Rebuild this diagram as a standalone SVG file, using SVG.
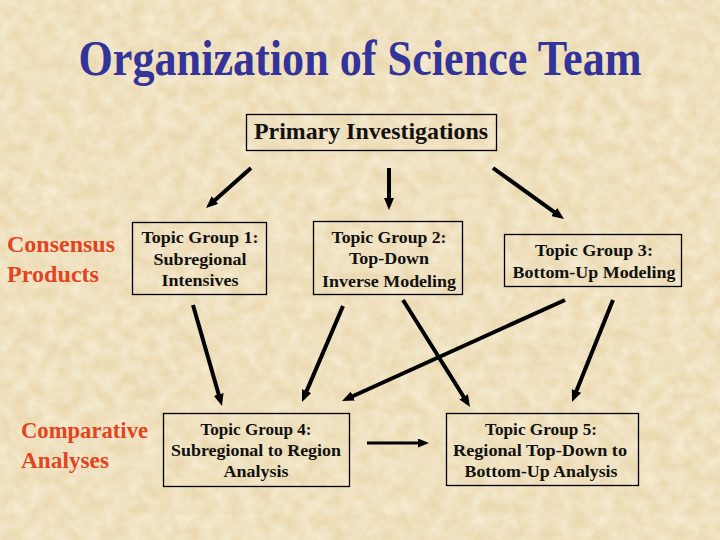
<svg xmlns="http://www.w3.org/2000/svg" width="720" height="540" viewBox="0 0 720 540">
  <defs>
    <filter id="tex" x="0" y="0" width="100%" height="100%">
      <feTurbulence type="fractalNoise" baseFrequency="0.07" numOctaves="4" seed="7"/>
      <feColorMatrix type="matrix" values="0 0 0 0 1  0 0 0 0 0.98  0 0 0 0 0.9  0.8 0 0 0 -0.18"/>
    </filter>
    <marker id="ah" markerUnits="userSpaceOnUse" markerWidth="12" markerHeight="10" refX="4" refY="5" orient="auto">
      <path d="M0,0 L12,5 L0,10 z" fill="#000"/>
    </marker>
    <marker id="ahs" markerUnits="userSpaceOnUse" markerWidth="11" markerHeight="9" refX="3" refY="4.5" orient="auto">
      <path d="M0,0 L11,4.5 L0,9 z" fill="#000"/>
    </marker>
    <style>
      .box { fill: none; stroke: #000; stroke-width: 1.3; }
      .t { font-family: "Liberation Serif", "Times New Roman", serif; font-weight: bold; fill: #111; text-anchor: middle; }
      .bx { font-size: 17px; }
      .lab { font-family: "Liberation Serif", "Times New Roman", serif; font-weight: bold; fill: #E2451E; font-size: 23px; }
      .c { stroke: #000; stroke-width: 4; fill: none; marker-end: url(#ah); }
    </style>
  </defs>

  <rect width="720" height="540" fill="#EBD9B0"/>
  <rect width="720" height="540" filter="url(#tex)"/>

  <text x="360" y="75" font-family="'Liberation Serif', 'Times New Roman', serif" font-weight="bold" font-size="50" fill="#333399" text-anchor="middle" textLength="563" lengthAdjust="spacingAndGlyphs">Organization of Science Team</text>

  <g id="primary">
    <rect class="box" x="246.5" y="114.5" width="250" height="36"/>
    <text class="t" x="371" y="139" font-size="23" textLength="234" lengthAdjust="spacingAndGlyphs">Primary Investigations</text>
  </g>

  <g id="consensus">
    <text class="lab" x="7" y="252" textLength="108" lengthAdjust="spacingAndGlyphs">Consensus</text>
    <text class="lab" x="7" y="282" textLength="92" lengthAdjust="spacingAndGlyphs">Products</text>
  </g>

  <g id="comparative">
    <text class="lab" x="21" y="438" textLength="127" lengthAdjust="spacingAndGlyphs">Comparative</text>
    <text class="lab" x="21" y="468" textLength="88" lengthAdjust="spacingAndGlyphs">Analyses</text>
  </g>

  <g id="tg1">
    <rect class="box" x="132.5" y="222.5" width="134" height="72"/>
    <text class="t bx" x="200" y="243" textLength="117" lengthAdjust="spacingAndGlyphs">Topic Group 1:</text>
    <text class="t bx" x="200" y="265" textLength="93" lengthAdjust="spacingAndGlyphs">Subregional</text>
    <text class="t bx" x="200" y="286" textLength="77" lengthAdjust="spacingAndGlyphs">Intensives</text>
  </g>

  <g id="tg2">
    <rect class="box" x="313.5" y="221.5" width="149" height="73"/>
    <text class="t bx" x="389" y="243" textLength="115" lengthAdjust="spacingAndGlyphs">Topic Group 2:</text>
    <text class="t bx" x="389" y="264" textLength="80" lengthAdjust="spacingAndGlyphs">Top-Down</text>
    <text class="t bx" x="389" y="287" textLength="134" lengthAdjust="spacingAndGlyphs">Inverse Modeling</text>
  </g>

  <g id="tg3">
    <rect class="box" x="504.5" y="234.5" width="177" height="52"/>
    <text class="t bx" x="594" y="256" textLength="118" lengthAdjust="spacingAndGlyphs">Topic Group 3:</text>
    <text class="t bx" x="594" y="278" textLength="163" lengthAdjust="spacingAndGlyphs">Bottom-Up Modeling</text>
  </g>

  <g id="tg4">
    <rect class="box" x="163.5" y="413.5" width="186" height="73"/>
    <text class="t bx" x="256" y="435" textLength="111" lengthAdjust="spacingAndGlyphs">Topic Group 4:</text>
    <text class="t bx" x="256" y="456" textLength="170" lengthAdjust="spacingAndGlyphs">Subregional to Region</text>
    <text class="t bx" x="256" y="477" textLength="65" lengthAdjust="spacingAndGlyphs">Analysis</text>
  </g>

  <g id="tg5">
    <rect class="box" x="446.5" y="413.5" width="192" height="72"/>
    <text class="t bx" x="541" y="435" textLength="112" lengthAdjust="spacingAndGlyphs">Topic Group 5:</text>
    <text class="t bx" x="540" y="456" textLength="174" lengthAdjust="spacingAndGlyphs">Regional Top-Down to</text>
    <text class="t bx" x="541" y="477" textLength="153" lengthAdjust="spacingAndGlyphs">Bottom-Up Analysis</text>
  </g>

  <g id="connectors">
    <line class="c" x1="251" y1="168" x2="212" y2="202.7"/>
    <line class="c" x1="389" y1="168" x2="389" y2="202"/>
    <line class="c" x1="493" y1="168" x2="557.5" y2="214.3"/>
    <line class="c" x1="193" y1="305" x2="219.8" y2="398.3"/>
    <line class="c" x1="343" y1="306" x2="305.1" y2="394.6"/>
    <line class="c" x1="565" y1="300" x2="349.3" y2="397.7"/>
    <line class="c" x1="403" y1="300" x2="465.8" y2="400.2"/>
    <line class="c" x1="613" y1="300" x2="575" y2="394.6"/>
    <line x1="367" y1="443" x2="421" y2="443" stroke="#000" stroke-width="3" marker-end="url(#ahs)"/>
  </g>
</svg>
